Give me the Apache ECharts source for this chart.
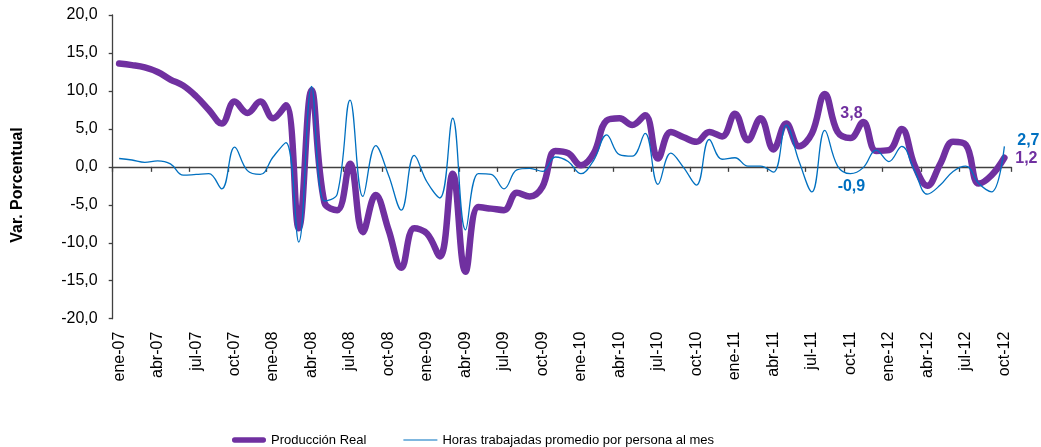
<!DOCTYPE html>
<html>
<head>
<meta charset="utf-8">
<script src="https://cdn.jsdelivr.net/npm/echarts@6/dist/echarts.min.js"></script>
<style>
html,body{margin:0;padding:0;background:#fff;}
#chart{width:1041px;height:447px;}
</style>
</head>
<body>
<div id="chart"></div>
<script>
var categories = [
 'ene-07','feb-07','mar-07','abr-07','may-07','jun-07','jul-07','ago-07','sep-07','oct-07','nov-07','dic-07',
 'ene-08','feb-08','mar-08','abr-08','may-08','jun-08','jul-08','ago-08','sep-08','oct-08','nov-08','dic-08',
 'ene-09','feb-09','mar-09','abr-09','may-09','jun-09','jul-09','ago-09','sep-09','oct-09','nov-09','dic-09',
 'ene-10','feb-10','mar-10','abr-10','may-10','jun-10','jul-10','ago-10','sep-10','oct-10','nov-10','dic-10',
 'ene-11','feb-11','mar-11','abr-11','may-11','jun-11','jul-11','ago-11','sep-11','oct-11','nov-11','dic-11',
 'ene-12','feb-12','mar-12','abr-12','may-12','jun-12','jul-12','ago-12','sep-12','oct-12'
];
var produccionReal = [
 13.6,13.4,13.1,12.5,11.5,10.7,9.3,7.5,5.7,8.6,
 7.1,8.6,6.4,8.1,-8.1,10.1,-4.7,-5.7,0.4,-8.6,
 -3.7,-8.3,-13.3,-8.1,-8.8,-11.8,-0.9,-13.8,-5.3,-5.5,
 -5.7,-3.4,-3.9,-2.6,2.1,1.8,0.2,1.8,6.1,6.4,
 5.5,6.8,1.1,4.6,3.9,3.3,4.6,4.0,7.0,3.5,
 6.4,2.3,5.7,2.7,4.4,9.6,4.6,3.8,5.9,2.1,
 2.2,5.0,0.2,-2.5,0.4,3.3,2.9,-2.2,-1.1,1.2
];
var horasTrabajadas = [
 1.1,0.9,0.6,0.8,0.4,-1.1,-1.0,-0.9,-2.9,2.6,
 -0.5,-1.0,1.3,3.2,-9.9,10.6,-4.5,-3.6,8.8,-3.9,
 2.8,-1.1,-5.7,1.5,-2.0,-4.1,6.4,-8.3,-0.9,-1.0,
 -2.9,-0.4,-0.2,-0.6,1.3,0.7,-0.9,0.9,4.2,1.6,
 1.4,4.4,-2.3,1.8,-0.1,-2.4,3.6,1.0,1.2,0.1,
 0.1,-0.7,5.5,0.7,-3.3,4.8,0.1,-0.9,-0.1,2.2,
 0.7,2.7,-0.5,-3.6,-2.4,-0.6,0.1,-2.2,-3.3,2.7
];
var yTicks = [-20,-15,-10,-5,0,5,10,15,20];
var seriesNames = ['Producción Real','Horas trabajadas promedio por persona al mes'];
var prodLabelIdx = [57, 69];
var horasLabelIdx = [57, 69];

var FONT = "'Liberation Sans', Arial, sans-serif";
var PURPLE = '#7030A0', BLUE = '#0070C0', AXIS = '#404040';
function fmt(v){ return v.toFixed(1).replace('.', ','); }

var prodOffsets = {57:[1,-24], 69:[22,1]};
var horasOffsets = {57:[1,13], 69:[24,-6]};

function marks(values, idxs, offsets){
  return idxs.map(function(i){
    return {
      coord: [categories[i], values[i]],
      value: fmt(values[i]),
      label: {offset: offsets[i]}
    };
  });
}

var thickIcon = 'path://M0,0L0,0M34,14L34,14M2.5,4.3L31.5,4.3A2.7,2.7,0,0,1,31.5,9.7L2.5,9.7A2.7,2.7,0,0,1,2.5,4.3Z';
var thinIcon = 'path://M0,0L0,0M34,14L34,14M0,6.4L34,6.4L34,7.6L0,7.6Z';

var chart = echarts.init(document.getElementById('chart'), null, {renderer:'canvas'});
chart.setOption({
  animation: false,
  backgroundColor: '#ffffff',
  textStyle: {fontFamily: FONT},
  grid: {left: 112.7, right: 30.2, top: 15, bottom: 128.3, containLabel: false},
  legend: {
    left: 227, top: 428,
    itemWidth: 34, itemHeight: 14, itemGap: 37,
    textStyle: {fontFamily: FONT, fontSize: 13, color: '#000'},
    data: [
      {name: seriesNames[0], icon: thickIcon, itemStyle: {color: PURPLE}},
      {name: seriesNames[1], icon: thinIcon, itemStyle: {color: BLUE}}
    ]
  },
  xAxis: [{
    type: 'category', data: categories, boundaryGap: true, position: 'top',
    axisLine: {onZero: true, lineStyle: {color: AXIS, width: 1.3}},
    axisTick: {show: true, interval: 2, inside: true, length: 5, lineStyle: {color: AXIS, width: 1.3}},
    axisLabel: {show: false},
    splitLine: {show: false}
  },{
    type: 'category', data: categories, boundaryGap: true, position: 'bottom',
    axisLine: {show: false, onZero: false},
    axisTick: {show: false},
    axisLabel: {interval: 2, rotate: 90, fontSize: 16, margin: 13, color: '#000', fontFamily: FONT},
    splitLine: {show: false}
  }],
  yAxis: {
    type: 'value', min: yTicks[0], max: yTicks[yTicks.length-1], interval: 5,
    axisLine: {show: true, lineStyle: {color: AXIS, width: 1.3}},
    axisTick: {show: true, length: 4, lineStyle: {color: AXIS, width: 1.3}},
    axisLabel: {formatter: fmt, fontSize: 16, margin: 15, color: '#000', fontFamily: FONT},
    splitLine: {show: false}
  },
  graphic: [{
    type: 'text', x: 18, y: 185, rotation: Math.PI/2,
    style: {text: 'Var. Porcentual', font: 'bold 16px ' + FONT, fill: '#000', textAlign: 'center', textVerticalAlign: 'middle'}
  }],
  series: [{
    name: seriesNames[0], type: 'line', xAxisIndex: 0, data: produccionReal,
    smooth: 0.4, symbol: 'none', showSymbol: false,
    lineStyle: {color: PURPLE, width: 6.5, cap: 'round', join: 'round'},
    itemStyle: {color: PURPLE},
    markPoint: {
      symbol: 'circle', symbolSize: 1, itemStyle: {color: 'rgba(0,0,0,0)'},
      label: {show: true, position: 'inside', formatter: '{c}', color: PURPLE, fontSize: 16, fontWeight: 'bold', fontFamily: FONT},
      data: marks(produccionReal, prodLabelIdx, prodOffsets)
    }
  },{
    name: seriesNames[1], type: 'line', xAxisIndex: 0, data: horasTrabajadas,
    smooth: 0.4, symbol: 'none', showSymbol: false,
    lineStyle: {color: BLUE, width: 1.3},
    itemStyle: {color: BLUE},
    markPoint: {
      symbol: 'circle', symbolSize: 1, itemStyle: {color: 'rgba(0,0,0,0)'},
      label: {show: true, position: 'inside', formatter: '{c}', color: BLUE, fontSize: 16, fontWeight: 'bold', fontFamily: FONT},
      data: marks(horasTrabajadas, horasLabelIdx, horasOffsets)
    }
  }]
});
</script>
</body>
</html>
